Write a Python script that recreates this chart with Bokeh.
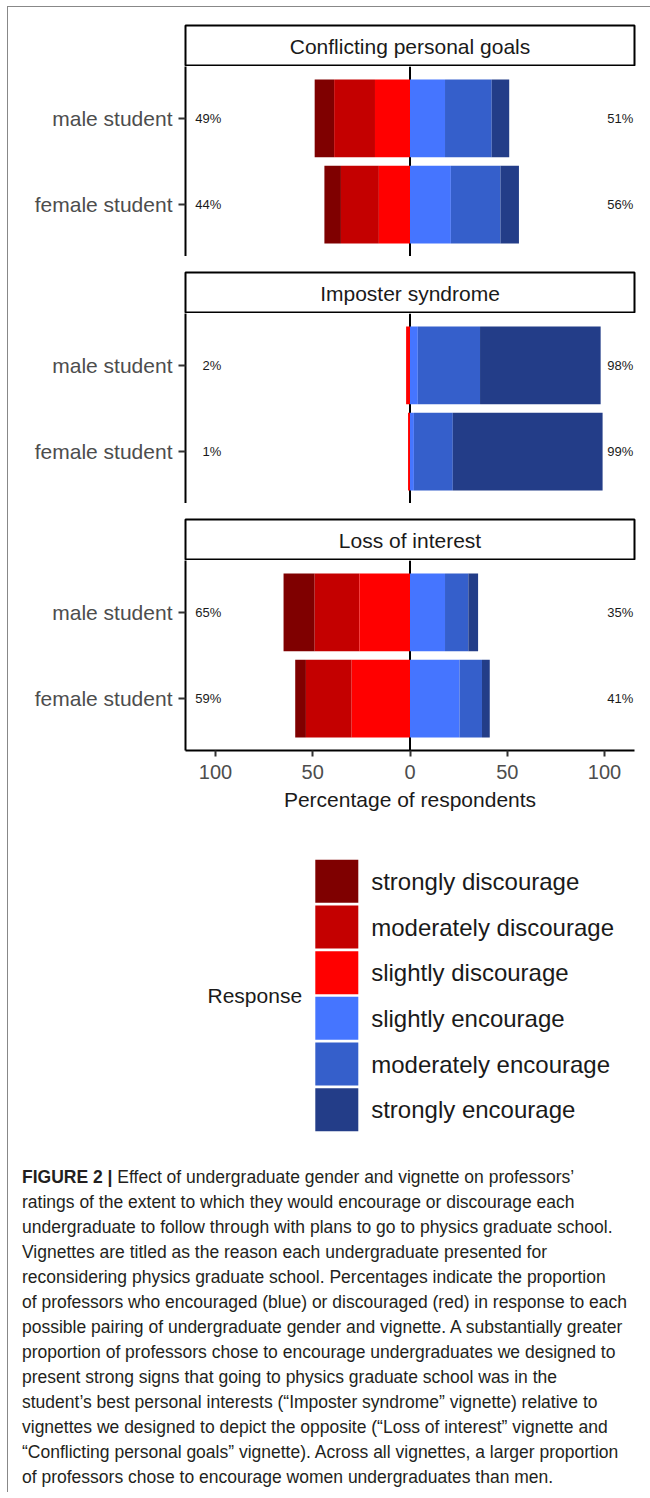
import numpy as np
from bokeh.plotting import figure
from bokeh.models import (Range1d, FactorRange, Span, ColumnDataSource,
                          CustomJSTickFormatter, FixedTicker, Div)
from bokeh.layouts import column
from bokeh.core.properties import value
from bokeh.embed import file_html
from bokeh.resources import INLINE

# ---------------- data ----------------
panels = ["Conflicting personal goals", "Imposter syndrome", "Loss of interest"]
students = ["male student", "female student"]
responses = ["strongly discourage", "moderately discourage", "slightly discourage",
             "slightly encourage", "moderately encourage", "strongly encourage"]
colors = ["#7F0000", "#C40000", "#FF0000", "#4575FF", "#355FCB", "#233D88"]

# percentages per response (same order as `responses`)
conflicting_male = [10, 21, 18, 18, 24, 9]
conflicting_female = [8.5, 19.5, 16, 21, 25.5, 9.5]
imposter_male = [0, 0, 2, 4, 32, 62]
imposter_female = [0, 0, 1, 2, 20, 77]
loss_male = [16, 23, 26, 18, 12, 5]
loss_female = [5.5, 23.5, 30, 25.5, 11.5, 4]

x_ticks = [-100, -50, 0, 50, 100]

caption_lines = [
    "<b>FIGURE 2 |</b> Effect of undergraduate gender and vignette on professors\u2019",
    "ratings of the extent to which they would encourage or discourage each",
    "undergraduate to follow through with plans to go to physics graduate school.",
    "Vignettes are titled as the reason each undergraduate presented for",
    "reconsidering physics graduate school. Percentages indicate the proportion",
    "of professors who encouraged (blue) or discouraged (red) in response to each",
    "possible pairing of undergraduate gender and vignette. A substantially greater",
    "proportion of professors chose to encourage undergraduates we designed to",
    "present strong signs that going to physics graduate school was in the",
    "student\u2019s best personal interests (\u201cImposter syndrome\u201d vignette) relative to",
    "vignettes we designed to depict the opposite (\u201cLoss of interest\u201d vignette and",
    "\u201cConflicting personal goals\u201d vignette). Across all vignettes, a larger proportion",
    "of professors chose to encourage women undergraduates than men.",
]

panel_values = [(conflicting_male, conflicting_female),
                (imposter_male, imposter_female),
                (loss_male, loss_female)]

FONT = "Liberation Sans"
XR = Range1d(-115.4, 115.4)
FRAME_W = 449
LEFT = 177
RIGHT = 8


def strip_fig(title, top):
    s = figure(x_range=XR, y_range=Range1d(0, 1), frame_width=FRAME_W, frame_height=41,
               min_border_left=LEFT, min_border_right=RIGHT, min_border_top=top,
               min_border_bottom=0, x_axis_location=None, y_axis_location=None,
               output_backend="svg", toolbar_location=None)
    s.grid.visible = False
    s.outline_line_color = "black"
    s.outline_line_width = 2
    s.text(x=[0], y=[0.5], text=[title], text_align="center", text_baseline="middle",
           text_font=value(FONT), text_font_size="21px", text_color="#1A1A1A")
    return s


def panel_fig(vals_m, vals_f, bottom_axis):
    yr = FactorRange(factors=["female student", "male student"],
                     range_padding=0.1, range_padding_units="absolute")
    p = figure(x_range=XR, y_range=yr, frame_width=FRAME_W, frame_height=190,
               min_border_left=LEFT, min_border_right=RIGHT, min_border_top=0,
               min_border_bottom=70 if bottom_axis else 0,
               x_axis_location="below" if bottom_axis else None,
               output_backend="svg", toolbar_location=None)
    p.grid.visible = False
    p.outline_line_color = None
    p.add_layout(Span(location=0, dimension="height", line_color="black",
                      line_width=2, level="underlay"))
    vm = np.array(vals_m, dtype=float)
    vf = np.array(vals_f, dtype=float)
    for k, resp in enumerate(responses):
        lefts, rights = [], []
        for v in (vm, vf):
            if k < 3:
                # discourage segments grow leftwards from zero (slightly nearest)
                lefts.append(-v[k:3].sum())
                rights.append(-v[k + 1:3].sum())
            else:
                lefts.append(v[3:k].sum())
                rights.append(v[3:k + 1].sum())
        src = ColumnDataSource(dict(y=students, left=lefts, right=rights))
        p.hbar(y="y", left="left", right="right", height=0.9, source=src,
               fill_color=colors[k], line_color=None)
    dis = [f"{round(v[:3].sum())}%" for v in (vm, vf)]
    enc = [f"{round(v[3:].sum())}%" for v in (vm, vf)]
    p.text(x=[-97] * 2, y=students, text=dis, text_align="right", text_baseline="middle",
           text_font=value(FONT), text_font_size="13px", text_color="#1A1A1A")
    p.text(x=[114.8] * 2, y=students, text=enc, text_align="right", text_baseline="middle",
           text_font=value(FONT), text_font_size="13px", text_color="#1A1A1A")

    ya = p.yaxis[0]
    ya.axis_line_width = 2
    ya.axis_line_color = "black"
    ya.major_tick_line_width = 2
    ya.major_tick_line_color = "#333333"
    ya.major_tick_out = 7
    ya.major_tick_in = 0
    ya.major_label_standoff = 6
    ya.major_label_text_font = FONT
    ya.major_label_text_font_size = "21px"
    ya.major_label_text_color = "#4D4D4D"

    if bottom_axis:
        xa = p.xaxis[0]
        xa.ticker = FixedTicker(ticks=x_ticks)
        xa.formatter = CustomJSTickFormatter(code="return Math.abs(tick).toString();")
        xa.axis_line_width = 2
        xa.axis_line_color = "black"
        xa.major_tick_line_width = 2
        xa.major_tick_line_color = "#333333"
        xa.major_tick_out = 6
        xa.major_tick_in = 0
        xa.minor_tick_line_color = None
        xa.major_label_standoff = 8
        xa.major_label_text_font = FONT
        xa.major_label_text_font_size = "20px"
        xa.major_label_text_color = "#4D4D4D"
        xa.axis_label = "Percentage of respondents"
        xa.axis_label_standoff = 6
        xa.axis_label_text_font = FONT
        xa.axis_label_text_font_size = "21px"
        xa.axis_label_text_font_style = "normal"
        xa.axis_label_text_color = "#1A1A1A"
    return p


children = []
for i, (vm, vf) in enumerate(panel_values):
    children.append(strip_fig(panels[i], 18 if i == 0 else 16))
    children.append(panel_fig(vm, vf, bottom_axis=(i == len(panels) - 1)))

# ---------------- legend ----------------
# x data = horizontal position within the layout (frame aligned with the panels)
lg = figure(x_range=Range1d(LEFT, LEFT + FRAME_W), y_range=FactorRange(factors=responses[::-1]),
            frame_width=FRAME_W, frame_height=274, min_border_left=LEFT, min_border_right=RIGHT,
            min_border_top=38, min_border_bottom=28, x_axis_location=None,
            y_axis_location=None, output_backend="svg", toolbar_location=None)
lg.grid.visible = False
lg.outline_line_color = None
lg.rect(x=[328.3] * len(responses), y=responses, width=43, height=43,
        width_units="screen", height_units="screen", fill_color=colors, line_color=None)
lg.text(x=[362.7] * len(responses), y=responses, text=responses, text_align="left",
        text_baseline="middle", text_font=value(FONT), text_font_size="24px",
        text_color="#1A1A1A")
lg.text(x=[199], y=[3.0], text=["Response"], text_align="left", text_baseline="middle",
        text_font=value(FONT), text_font_size="21px", text_color="#1A1A1A")
children.append(lg)

# ---------------- caption ----------------
cap_html = ("<div style=\"font-family:'Liberation Sans',Arial,sans-serif;"
            "font-size:17.5px;line-height:25px;color:#231F20;white-space:nowrap;"
            "padding-left:9px;\">" + "<br>".join(caption_lines) + "</div>")
cap = Div(text=cap_html, width=634, height=322)
children.append(cap)

layout = column(*children, spacing=0, margin=(6, 0, 0, 7),
                styles={"border-top": "1px solid #888888", "border-left": "1px solid #888888"})

open("out.html", "w").write(file_html(layout, INLINE))
